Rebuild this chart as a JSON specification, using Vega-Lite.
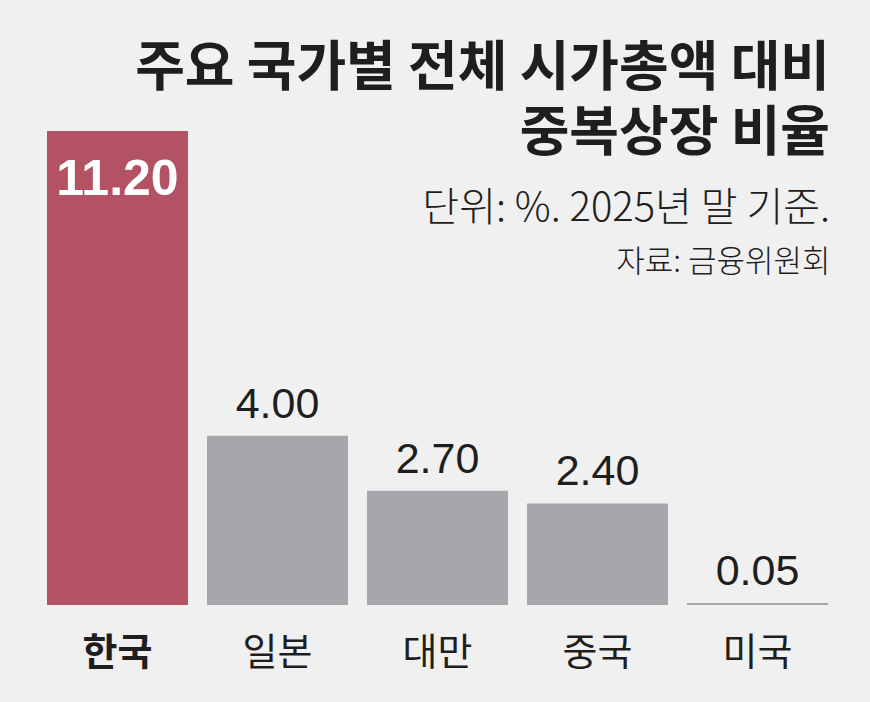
{
  "$schema": "https://vega.github.io/schema/vega-lite/v6.json",
  "width": 781,
  "height": 474,
  "autosize": {"type": "none"},
  "padding": {"top": 131, "left": 47, "right": 42, "bottom": 97},
  "background": "#f0f0f0",
  "title": {
    "text": ["주요 국가별 전체 시가총액 대비", "중복상장 비율"],
    "subtitle": "단위: %.  2025년 말 기준.",
    "anchor": "end",
    "orient": "top",
    "offset": -98,
    "font": "Noto Sans CJK KR",
    "fontSize": 54,
    "fontWeight": "bold",
    "lineHeight": 65,
    "color": "#1e1e1e",
    "subtitleFont": "Noto Sans CJK KR",
    "subtitleFontSize": 40,
    "subtitleFontWeight": 300,
    "subtitleColor": "#1e1e1e",
    "subtitlePadding": 27
  },
  "data": {
    "values": [
      {"country": "한국", "value": 11.2, "label": "11.20", "highlight": "yes"},
      {"country": "일본", "value": 4.0, "label": "4.00", "highlight": "no"},
      {"country": "대만", "value": 2.7, "label": "2.70", "highlight": "no"},
      {"country": "중국", "value": 2.4, "label": "2.40", "highlight": "no"},
      {"country": "미국", "value": 0.05, "label": "0.05", "highlight": "no"}
    ]
  },
  "encoding": {
    "x": {
      "field": "country",
      "type": "nominal",
      "sort": null,
      "scale": {"paddingInner": 0.119, "paddingOuter": 0},
      "axis": {
        "title": null,
        "domain": false,
        "ticks": false,
        "labelAngle": 0,
        "labelFont": "Noto Sans CJK KR",
        "labelFontSize": 38,
        "labelColor": "#1e1e1e",
        "labelPadding": 29,
        "labelFontWeight": {"condition": {"test": "datum.value === '한국'", "value": "bold"}, "value": "normal"}
      }
    },
    "y": {
      "field": "value",
      "type": "quantitative",
      "scale": {"domain": [0, 11.2], "nice": false},
      "axis": {
        "orient": "right",
        "labels": false,
        "ticks": false,
        "domain": false,
        "grid": false,
        "title": "자료: 금융위원회",
        "titleAngle": 0,
        "titleAlign": "right",
        "titleBaseline": "alphabetic",
        "titleX": 2,
        "titleY": 140,
        "titleFont": "Noto Sans CJK KR",
        "titleFontSize": 31,
        "titleFontWeight": 300,
        "titleColor": "#1e1e1e"
      }
    }
  },
  "layer": [
    {
      "mark": {"type": "bar"},
      "encoding": {
        "color": {
          "field": "highlight",
          "type": "nominal",
          "scale": {"domain": ["yes", "no"], "range": ["#b25263", "#a6a7aa"]},
          "legend": null
        }
      }
    },
    {
      "transform": [{"filter": "datum.highlight === 'no'"}],
      "mark": {"type": "text", "font": "Liberation Sans", "fontSize": 43, "baseline": "alphabetic", "dy": -18, "color": "#1e1e1e"},
      "encoding": {"text": {"field": "label"}}
    },
    {
      "transform": [{"filter": "datum.highlight === 'yes'"}],
      "mark": {"type": "text", "font": "Liberation Sans", "fontSize": 50, "fontWeight": "bold", "baseline": "alphabetic", "dy": 64, "color": "#ffffff"},
      "encoding": {"text": {"field": "label"}}
    }
  ],
  "config": {"view": {"stroke": null}}
}
